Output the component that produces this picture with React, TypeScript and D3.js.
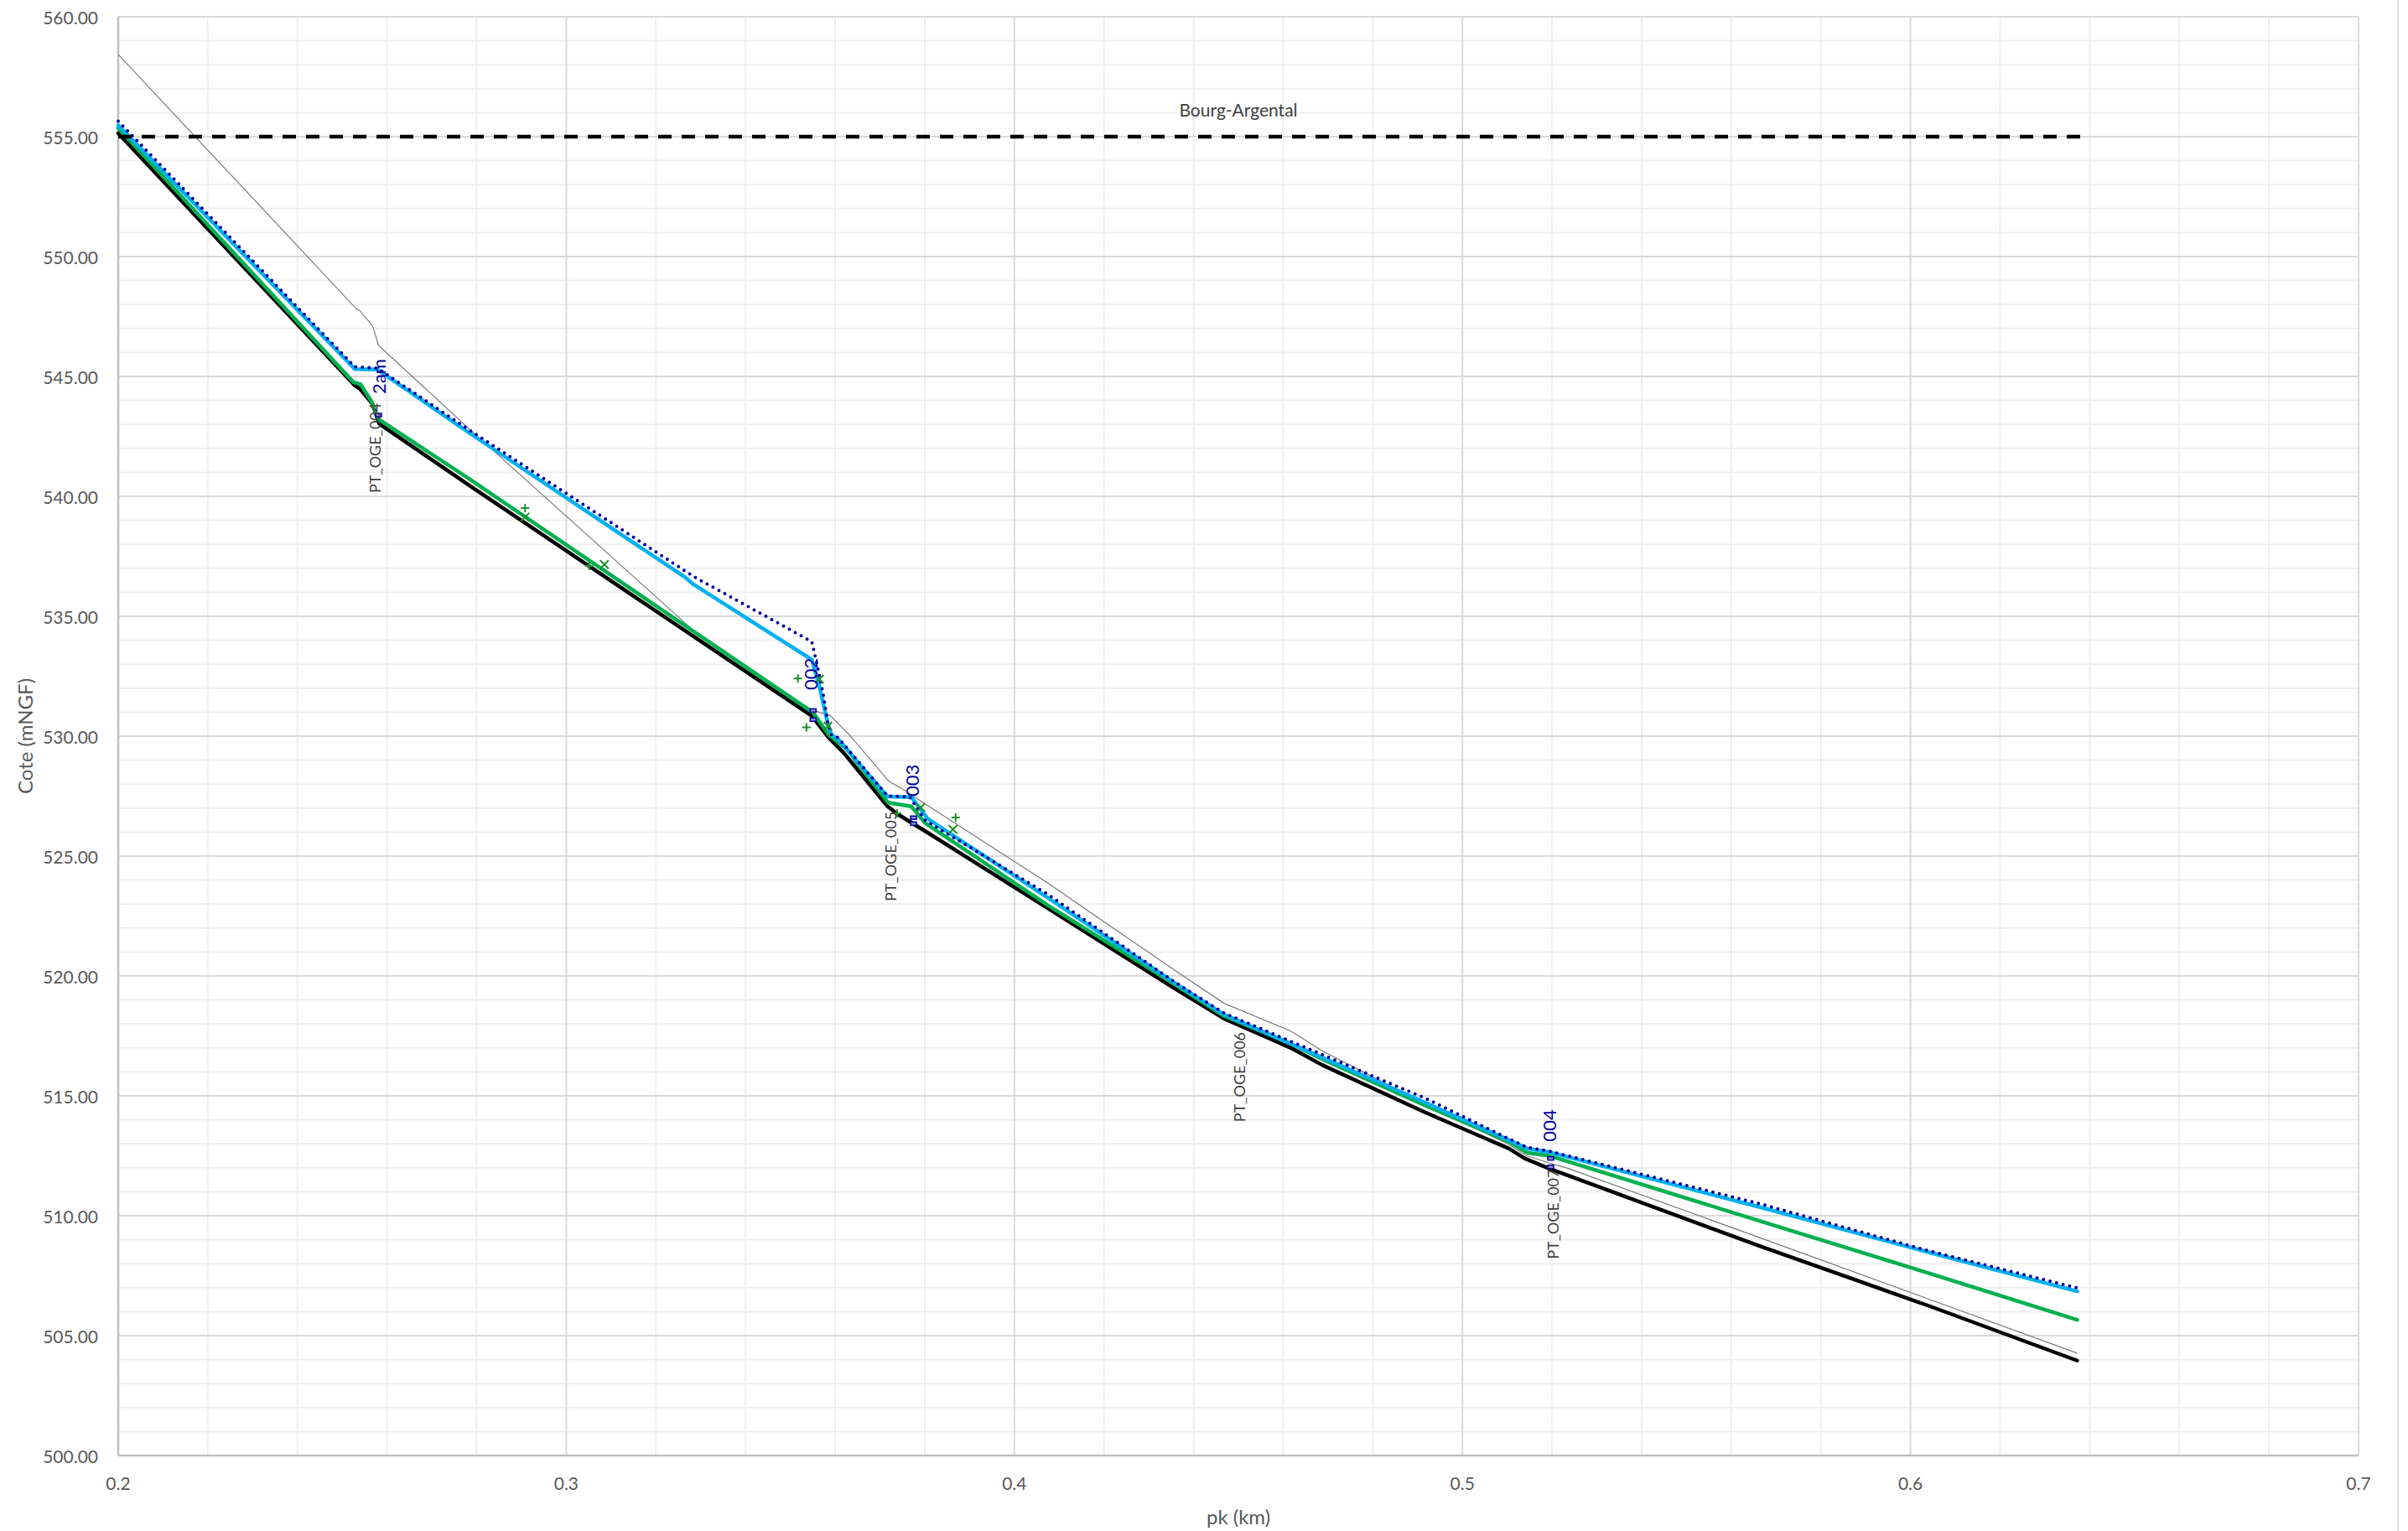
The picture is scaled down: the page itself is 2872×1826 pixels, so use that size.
import React, { useEffect } from "react";
import * as d3 from "d3";

// ---- data (pk in km, cote in mNGF) ----
const xTicks = [0.2, 0.3, 0.4, 0.5, 0.6, 0.7];
const yTicks = [500, 505, 510, 515, 520, 525, 530, 535, 540, 545, 550, 555, 560];

const pkFond = [0.2, 0.2527, 0.2539, 0.2568, 0.2577, 0.2583, 0.2784, 0.3548, 0.3586, 0.362, 0.3717, 0.3741, 0.3807, 0.4075, 0.4356, 0.4468, 0.4618, 0.4687, 0.4917, 0.5104, 0.5139, 0.5192, 0.5666, 0.604, 0.6372];
const coteFond = [555.14, 544.64, 544.49, 543.84, 543.33, 543.02, 540.45, 530.84, 529.93, 529.29, 527.07, 526.73, 525.97, 522.82, 519.5, 518.22, 516.99, 516.29, 514.31, 512.8, 512.39, 511.98, 508.72, 506.25, 503.96];

const pkVert = [0.2, 0.2525, 0.2541, 0.2565, 0.2575, 0.2581, 0.2784, 0.3551, 0.3586, 0.3626, 0.3718, 0.377, 0.3801, 0.4075, 0.4356, 0.4468, 0.4618, 0.4687, 0.4917, 0.5104, 0.5145, 0.5192, 0.5666, 0.604, 0.6372];
const coteVert = [555.36, 544.76, 544.67, 543.97, 543.5, 543.22, 540.72, 530.98, 530.05, 529.46, 527.23, 527.07, 526.38, 522.94, 519.67, 518.33, 517.17, 516.53, 514.6, 513.09, 512.62, 512.51, 509.77, 507.61, 505.66];

const pkBleu = [0.2, 0.2528, 0.2578, 0.2784, 0.3265, 0.3283, 0.3548, 0.3564, 0.3584, 0.3592, 0.3607, 0.3717, 0.377, 0.3807, 0.4075, 0.4356, 0.4468, 0.4917, 0.5104, 0.5145, 0.5192, 0.5666, 0.604, 0.6372];
const coteBleu = [555.48, 545.31, 545.29, 542.64, 536.63, 536.34, 533.19, 532.14, 530.5, 530.05, 529.87, 527.48, 527.46, 526.55, 523.26, 519.73, 518.39, 514.72, 513.15, 512.8, 512.66, 510.35, 508.48, 506.85];

const pkPointille = [0.2, 0.2528, 0.2578, 0.2784, 0.3283, 0.3548, 0.3562, 0.3573, 0.3584, 0.3592, 0.3607, 0.3717, 0.3766, 0.3801, 0.4075, 0.4356, 0.4468, 0.4917, 0.5104, 0.5145, 0.5192, 0.5666, 0.604, 0.6372];
const cotePointille = [555.65, 545.4, 545.35, 542.76, 536.67, 533.94, 532.78, 531.79, 530.51, 530.05, 529.93, 527.5, 527.48, 526.49, 523.4, 519.77, 518.45, 514.9, 513.21, 512.85, 512.7, 510.49, 508.54, 506.99];

const pkTerrain = [0.2, 0.2531, 0.2539, 0.2568, 0.2581, 0.2784, 0.3283, 0.347, 0.3533, 0.3564, 0.3589, 0.3632, 0.372, 0.3757, 0.3795, 0.4075, 0.4356, 0.4468, 0.4618, 0.4687, 0.4917, 0.5104, 0.5142, 0.5192, 0.5235, 0.5666, 0.604, 0.6372];
const coteTerrain = [558.43, 547.83, 547.75, 547.1, 546.3, 542.8, 534.42, 532.03, 531.21, 531.0, 530.86, 530.05, 528.12, 527.72, 527.25, 523.87, 520.26, 518.86, 517.69, 516.88, 514.66, 512.97, 512.51, 512.21, 511.98, 509.07, 506.53, 504.27];

const pkBourg = [0.2, 0.64];
const coteBourg = [555, 555];
const bourgLabel = "Bourg-Argental";
const bourgLabelPk = 0.45;
const bourgLabelCote = 555.83;

const pkPlus = [0.2908, 0.3051, 0.3517, 0.3536, 0.3738, 0.3869];
const cotePlus = [539.51, 537.1, 532.4, 530.37, 526.78, 526.61];
const pkCroix = [0.2908, 0.3085, 0.3565, 0.3584, 0.3791, 0.3863];
const coteCroix = [539.14, 537.16, 532.38, 530.42, 527.02, 526.11];

const pkOuvrage = [0.2581, 0.3551, 0.3551, 0.3775, 0.3775, 0.5197, 0.5197];
const coteOuvrage = [543.39, 531.07, 530.69, 526.6, 526.35, 512.39, 512.04];

const ouvrageLabels = ["2am", "002", "003", "004"];
const ouvrageLabelPk = [0.2581, 0.3544, 0.3772, 0.5194];
const ouvrageLabelCote = [544.27, 531.92, 527.48, 513.09];

const profilLabels = ["PT_OGE_004", "PT_OGE_005", "PT_OGE_006", "PT_OGE_007"];
const profilLabelPk = [0.2572, 0.3723, 0.4501, 0.5202];
const profilLabelCote = [540.14, 523.11, 513.91, 508.19];

const xTitle = "pk (km)";
const yTitle = "Cote (mNGF)";

// ---- layout ----
const W = 2872;
const H = 1826;
const L = 141, R = 2813, T = 20, B = 1736;
const FONT = "Lato, 'Open Sans', sans-serif";

const zip = (a: number[], b: number[]) => a.map((v, i) => [v, b[i]] as [number, number]);

export default function App() {
  useEffect(() => {
    document.body.style.margin = "0";
  }, []);

  const x = d3.scaleLinear().domain([0.2, 0.7]).range([L, R]);
  const y = d3.scaleLinear().domain([500, 560]).range([B, T]);
  const line = d3
    .line<[number, number]>()
    .x((d) => x(d[0]))
    .y((d) => y(d[1]));

  const xMinor = d3.range(0, 26).map((i) => 0.2 + i * 0.02).filter((v) => Math.abs(v * 10 - Math.round(v * 10)) > 1e-6);
  const yMinor = d3.range(500, 561, 1).filter((v) => v % 5 !== 0);

  const navy = "#00009c";
  const markGreen = "#1f8f2a";

  return (
    <svg
      width={W}
      height={H}
      style={{ position: "absolute", left: 0, top: 0, background: "#fff" }}
      fontFamily={FONT}
    >
      <rect x={0} y={0} width={W} height={H} fill="#fff" />
      {/* minor grid */}
      {xMinor.map((v, i) => (
        <line key={"xm" + i} x1={x(v)} x2={x(v)} y1={T} y2={B} stroke="#efefef" strokeWidth={2} />
      ))}
      {yMinor.map((v, i) => (
        <line key={"ym" + i} x1={L} x2={R} y1={y(v)} y2={y(v)} stroke="#efefef" strokeWidth={2} />
      ))}
      {/* major grid */}
      {xTicks.map((v, i) => (
        <line key={"xM" + i} x1={x(v)} x2={x(v)} y1={T} y2={B} stroke="#d9d9d9" strokeWidth={2} />
      ))}
      {yTicks.map((v, i) => (
        <line key={"yM" + i} x1={L} x2={R} y1={y(v)} y2={y(v)} stroke="#d9d9d9" strokeWidth={2} />
      ))}
      {/* axes */}
      <line x1={L} x2={L} y1={T} y2={B} stroke="#bfbfbf" strokeWidth={2.5} />
      <line x1={L} x2={R} y1={B} y2={B} stroke="#bfbfbf" strokeWidth={2.5} />
      <line x1={2860} x2={2860} y1={0} y2={H} stroke="#d9d9d9" strokeWidth={1.5} />

      {/* tick labels */}
      {yTicks.map((v, i) => (
        <text key={"yl" + i} x={L - 24} y={y(v)} textAnchor="end" dominantBaseline="central" fontSize={21} fill="#595959">
          {d3.format(".2f")(v)}
        </text>
      ))}
      {xTicks.map((v, i) => (
        <text key={"xl" + i} x={x(v)} y={B + 32} textAnchor="middle" dominantBaseline="central" fontSize={21} fill="#595959">
          {d3.format(".1f")(v)}
        </text>
      ))}
      {/* axis titles */}
      <text x={(L + R) / 2} y={1808} textAnchor="middle" dominantBaseline="central" fontSize={24} fill="#595959">
        {xTitle}
      </text>
      <text
        transform={`translate(29, ${(T + B) / 2}) rotate(-90)`}
        textAnchor="middle"
        dominantBaseline="central"
        fontSize={24}
        fill="#595959"
      >
        {yTitle}
      </text>

      {/* series */}
      <path d={line(zip(pkTerrain, coteTerrain)) || ""} fill="none" stroke="#7a7a7a" strokeWidth={1.2} />
      <path d={line(zip(pkFond, coteFond)) || ""} fill="none" stroke="#000" strokeWidth={4.5} strokeLinejoin="round" strokeLinecap="round" />
      <path d={line(zip(pkVert, coteVert)) || ""} fill="none" stroke="#00b050" strokeWidth={4.5} strokeLinejoin="round" strokeLinecap="round" />
      <path d={line(zip(pkBleu, coteBleu)) || ""} fill="none" stroke="#00b0f0" strokeWidth={4.5} strokeLinejoin="round" strokeLinecap="round" />
      <path
        d={line(zip(pkPointille, cotePointille)) || ""}
        fill="none"
        stroke={navy}
        strokeWidth={4}
        strokeDasharray="0 8"
        strokeLinecap="round"
        strokeLinejoin="round"
      />
      <path d={line(zip(pkBourg, coteBourg)) || ""} fill="none" stroke="#000" strokeWidth={4.5} strokeDasharray="16 12" />
      <text x={x(bourgLabelPk)} y={y(bourgLabelCote)} textAnchor="middle" fontSize={21} fill="#404040">
        {bourgLabel}
      </text>

      {/* markers */}
      {pkPlus.map((p, i) => (
        <path
          key={"p" + i}
          transform={`translate(${x(p)},${y(cotePlus[i])})`}
          d="M-5,0H5M0,-5V5"
          stroke={markGreen}
          strokeWidth={2}
          fill="none"
        />
      ))}
      {pkCroix.map((p, i) => (
        <path
          key={"c" + i}
          transform={`translate(${x(p)},${y(coteCroix[i])})`}
          d="M-5,-5L5,5M-5,5L5,-5"
          stroke={markGreen}
          strokeWidth={2}
          fill="none"
        />
      ))}
      {pkOuvrage.map((p, i) => (
        <rect
          key={"o" + i}
          x={x(p) - 3.5}
          y={y(coteOuvrage[i]) - 2}
          width={7}
          height={4}
          fill="#8c8cd0"
          stroke={navy}
          strokeWidth={1.5}
        />
      ))}

      {/* labels */}
      {ouvrageLabels.map((s, i) => (
        <text
          key={"ol" + i}
          transform={`translate(${x(ouvrageLabelPk[i])},${y(ouvrageLabelCote[i])}) rotate(-90)`}
          dominantBaseline="central"
          fontSize={22}
          fill={navy}
        >
          {s}
        </text>
      ))}
      {profilLabels.map((s, i) => (
        <text
          key={"pl" + i}
          transform={`translate(${x(profilLabelPk[i])},${y(profilLabelCote[i])}) rotate(-90)`}
          dominantBaseline="central"
          fontSize={18}
          fill="#404040"
        >
          {s}
        </text>
      ))}
    </svg>
  );
}
